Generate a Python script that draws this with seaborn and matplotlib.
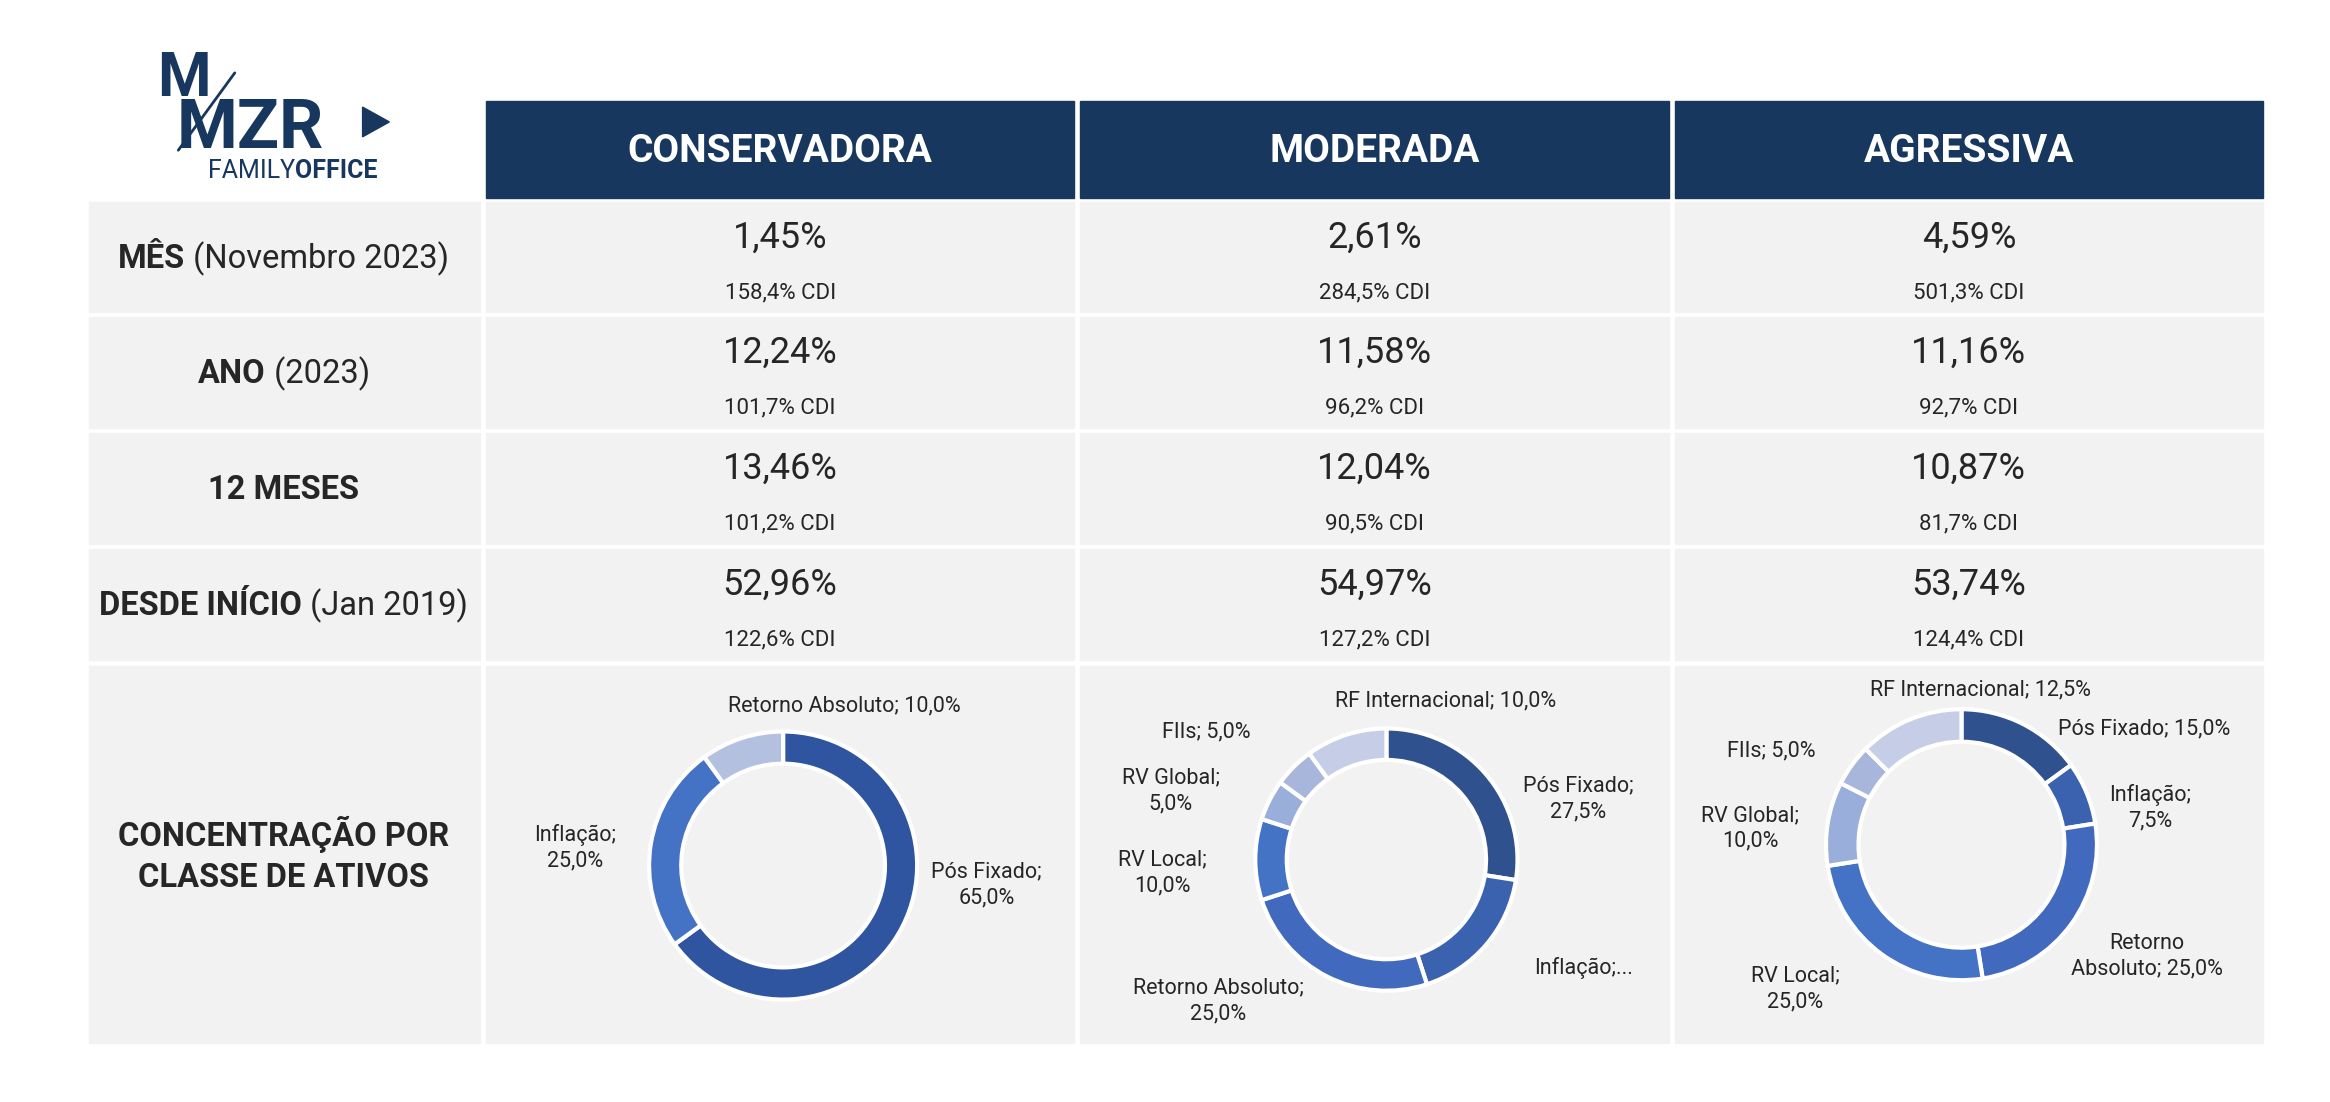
import matplotlib
matplotlib.use("Agg")
import matplotlib.pyplot as plt
import seaborn as sns
import numpy as np
from matplotlib.patches import Rectangle, Polygon

sns.set_theme(style="white")
plt.rcParams['font.family'] = ['Roboto', 'DejaVu Sans']

portfolios = ["CONSERVADORA", "MODERADA", "AGRESSIVA"]
row_bold = ["MÊS", "ANO", "12 MESES", "DESDE INÍCIO"]
row_rest = [" (Novembro 2023)", " (2023)", "", " (Jan 2019)"]
returns = [["1,45%", "2,61%", "4,59%"],
           ["12,24%", "11,58%", "11,16%"],
           ["13,46%", "12,04%", "10,87%"],
           ["52,96%", "54,97%", "53,74%"]]
cdi = [["158,4% CDI", "284,5% CDI", "501,3% CDI"],
       ["101,7% CDI", "96,2% CDI", "92,7% CDI"],
       ["101,2% CDI", "90,5% CDI", "81,7% CDI"],
       ["122,6% CDI", "127,2% CDI", "124,4% CDI"]]

cons_labels = ["Pós Fixado", "Inflação", "Retorno Absoluto"]
cons_values = [65.0, 25.0, 10.0]
mod_labels = ["Pós Fixado", "Inflação", "Retorno Absoluto", "RV Local", "RV Global", "FIIs", "RF Internacional"]
mod_values = [27.5, 17.5, 25.0, 10.0, 5.0, 5.0, 10.0]
agr_labels = ["Pós Fixado", "Inflação", "Retorno Absoluto", "RV Local", "RV Global", "FIIs", "RF Internacional"]
agr_values = [15.0, 7.5, 25.0, 25.0, 10.0, 5.0, 12.5]

cmap = {"Pós Fixado": "#2F528F", "Inflação": "#3A62AE", "Retorno Absoluto": "#4169BE",
        "RV Local": "#4472C4", "RV Global": "#9AAEDB", "FIIs": "#A9B6DC", "RF Internacional": "#C6CDE6"}
cons_colors = ["#2F55A0", "#4472C4", "#B4C0E0"]

W, H = 1568, 741
fig = plt.figure(figsize=(23.3, 11.02), dpi=100)
ax = fig.add_axes([0, 0, 1, 1])
ax.set_xlim(0, W); ax.set_ylim(H, 0); ax.axis("off")

NAVY = "#17375E"; GREY = "#F2F2F2"; TXT = "#262626"
cols = [(327, 723), (727, 1123), (1127, 1523)]
rows = [(136, 210), (213, 288), (291, 366), (369, 444), (448, 701)]

for i, (x0, x1) in enumerate(cols):
    ax.add_patch(Rectangle((x0, 68), x1 - x0, 65, color=NAVY))
    ax.text((x0 + x1) / 2, 102, portfolios[i], color="white", fontsize=28, fontweight="bold", ha="center", va="center")
for (y0, y1) in rows:
    ax.add_patch(Rectangle((60, y0), 263, y1 - y0, color=GREY))
    for (x0, x1) in cols:
        ax.add_patch(Rectangle((x0, y0), x1 - x0, y1 - y0, color=GREY))

fig.canvas.draw()
r1 = fig.canvas.get_renderer()
sx = W / fig.bbox.width
for r in range(4):
    y0, y1 = rows[r]
    yc = (y0 + y1) / 2
    tb = ax.text(0, 0, row_bold[r], fontsize=23.5, fontweight="bold", color=TXT, va="center")
    tr = ax.text(0, 0, row_rest[r], fontsize=23.5, color=TXT, va="center")
    wb = tb.get_window_extent(r1).width
    wr = tr.get_window_extent(r1).width if row_rest[r] else 0
    xs = 191 - (wb + wr) * sx / 2
    tb.set_position((xs, yc + 1))
    tr.set_position((xs + wb * sx, yc + 1))
    for c, (x0, x1) in enumerate(cols):
        ax.text((x0 + x1) / 2, y0 + 24, returns[r][c], fontsize=26, color=TXT, ha="center", va="center")
        ax.text((x0 + x1) / 2, y0 + 61, cdi[r][c], fontsize=16, color=TXT, ha="center", va="center")

ax.text(191, 575, "CONCENTRAÇÃO POR\nCLASSE DE ATIVOS", fontsize=23.5, fontweight="bold", color=TXT,
        ha="center", va="center", linespacing=1.35)

# logo
ax.text(106, 53, "M", fontsize=44, fontweight="bold", color=NAVY, ha="left", va="center")
ax.text(119, 87, "MZR", fontsize=50, fontweight="bold", color=NAVY, ha="left", va="center")
ax.plot([120, 158], [101, 49], color=NAVY, lw=2)
ax.add_patch(Polygon([[244, 72], [244, 92], [262, 82]], closed=True, color=NAVY))
tf = ax.text(140, 115, "FAMILY", fontsize=18, color=NAVY, ha="left", va="center")
wf = tf.get_window_extent(r1).width * sx
ax.text(140 + wf, 115, "OFFICE", fontsize=18, fontweight="bold", color=NAVY, ha="left", va="center")

def donut(cx, cy, rad, vals, labs, colors, texts, offsets):
    pax = fig.add_axes([(cx - rad) / W, 1 - (cy + rad) / H, 2 * rad / W, 2 * rad / H])
    wedges, _ = pax.pie(vals, colors=colors, startangle=90, counterclock=False,
                        wedgeprops=dict(width=0.24, edgecolor="white", linewidth=3))
    pax.set_xlim(-1.02, 1.02); pax.set_ylim(-1.02, 1.02)
    pax.set_aspect("equal"); pax.axis("off")
    for lab, v in zip(labs, vals):
        dx, dy = offsets[lab]
        txt = texts.get(lab, f"{lab};\n{v:.1f}%".replace(".", ","))
        ax.text(cx + dx, cy + dy, txt, fontsize=15.5, color=TXT, ha="center", va="center", linespacing=1.3)

donut(527, 582, 92, cons_values, cons_labels, cons_colors,
      {"Retorno Absoluto": "Retorno Absoluto; 10,0%"},
      {"Retorno Absoluto": (41, -107), "Inflação": (-140, -12), "Pós Fixado": (137, 13)})
donut(933, 578, 90, mod_values, mod_labels, [cmap[l] for l in mod_labels],
      {"Inflação": "Inflação;...", "RF Internacional": "RF Internacional; 10,0%", "FIIs": "FIIs; 5,0%"},
      {"RF Internacional": (40, -107), "FIIs": (-121, -86), "RV Global": (-145, -46), "RV Local": (-151, 9),
       "Retorno Absoluto": (-113, 95), "Inflação": (133, 73), "Pós Fixado": (129, -41)})
donut(1320, 568, 93, agr_values, agr_labels, [cmap[l] for l in agr_labels],
      {"RF Internacional": "RF Internacional; 12,5%", "FIIs": "FIIs; 5,0%", "Pós Fixado": "Pós Fixado; 15,0%",
       "Retorno Absoluto": "Retorno\nAbsoluto; 25,0%"},
      {"RF Internacional": (13, -104), "Pós Fixado": (123, -78), "Inflação": (127, -25),
       "Retorno Absoluto": (125, 75), "RV Local": (-112, 97), "RV Global": (-142, -11), "FIIs": (-128, -63)})

fig.savefig("out.png", dpi=100, facecolor="white")
